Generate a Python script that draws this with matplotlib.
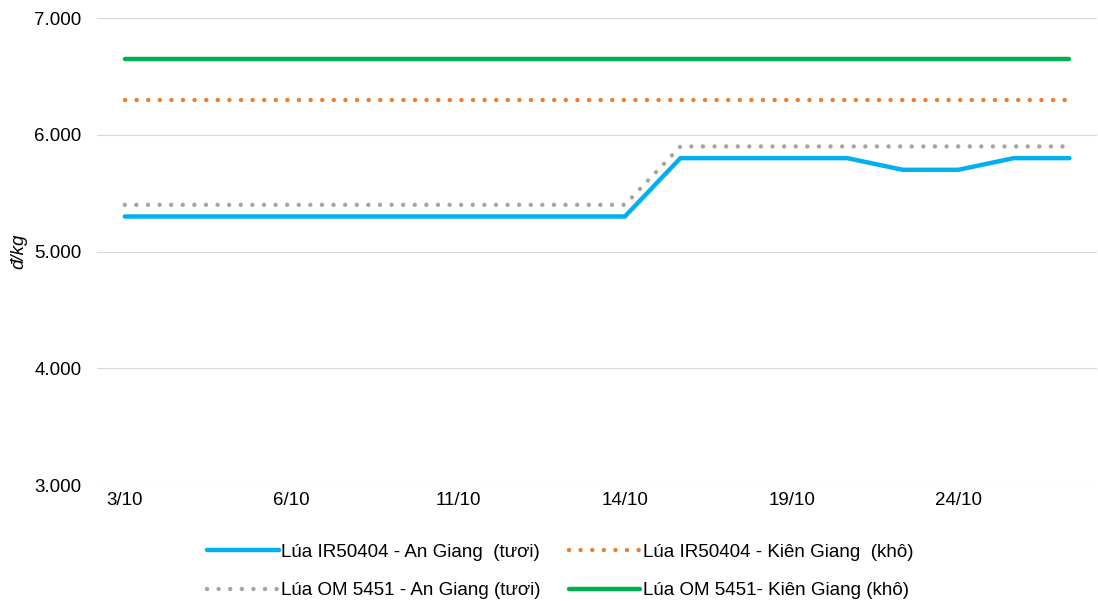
import matplotlib
matplotlib.use("Agg")
import matplotlib.pyplot as plt
from matplotlib.ticker import FuncFormatter

plt.rcParams['font.family'] = ['Liberation Sans', 'DejaVu Sans']

dates = ["3/10", "4/10", "5/10", "6/10", "7/10", "10/10", "11/10", "12/10", "13/10",
         "14/10", "17/10", "18/10", "19/10", "20/10", "21/10", "24/10", "25/10", "26/10"]
ir50404_ag = [5300]*10 + [5800, 5800, 5800, 5800, 5700, 5700, 5800, 5800]
ir50404_kg = [6300]*18
om5451_ag = [5400]*10 + [5900]*8
om5451_kg = [6650]*18
labels = ["Lúa IR50404 - An Giang  (tươi)", "Lúa IR50404 - Kiên Giang  (khô)",
          "Lúa OM 5451 - An Giang (tươi)", "Lúa OM 5451- Kiên Giang (khô)"]

FS = 13.5
fig = plt.figure(figsize=(10.98, 6.01), dpi=100)
ax = fig.add_axes([0.0883, 0.193, 0.911, 0.777])
x = list(range(len(dates)))

dot = (0, (0.01, 2.6))
l1, = ax.plot(x, ir50404_ag, color="#00B0F0", lw=3.2, solid_capstyle='round', solid_joinstyle='miter', zorder=4)
l2, = ax.plot(x, ir50404_kg, color="#ED7D31", lw=3.2, linestyle=dot, dash_capstyle='round', zorder=3)
l3, = ax.plot(x, om5451_ag, color="#A5A5A5", lw=3.2, linestyle=dot, dash_capstyle='round', zorder=3)
l4, = ax.plot(x, om5451_kg, color="#00B050", lw=3.2, solid_capstyle='round', zorder=3)

ax.set_xlim(-0.5, len(dates) - 0.5)
ax.set_ylim(3000, 7000)
ax.set_yticks([3000, 4000, 5000, 6000, 7000])
ax.yaxis.set_major_formatter(FuncFormatter(lambda v, p: f"{int(v):,}".replace(",", ".")))
ax.set_xticks(x[::3])
ax.set_xticklabels(dates[::3])
ax.tick_params(axis='both', length=0, labelsize=FS, colors="#000000")
ax.tick_params(axis='x', pad=5)
ax.tick_params(axis='y', pad=11)
ax.grid(axis='y', color="#D9D9D9", lw=0.8)
ax.set_axisbelow(True)
for s in ax.spines.values():
    s.set_visible(False)
ax.set_ylabel("đ/kg", fontsize=FS, style='italic', labelpad=5)

fig.legend([l1, l3, l2, l4], [labels[0], labels[2], labels[1], labels[3]],
           loc='lower center', bbox_to_anchor=(0.5105, -0.025),
           ncol=2, frameon=False, fontsize=FS, handlelength=3.8, handletextpad=0.15,
           columnspacing=1.5, labelspacing=1.14)

fig.savefig("out.png", dpi=100)
